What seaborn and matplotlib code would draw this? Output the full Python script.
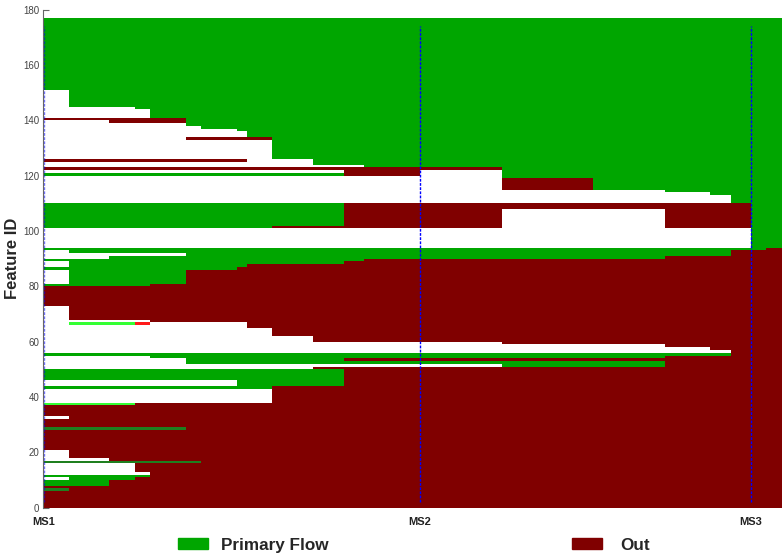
import numpy as np
import seaborn as sns
import matplotlib.pyplot as plt
from matplotlib.colors import ListedColormap
from matplotlib.patches import Patch

sns.set_style('white')
plt.rcParams['font.family'] = ['Liberation Sans', 'DejaVu Sans']

# time axis (steps) and milestones
n_steps = 145
milestones = ['MS1', 'MS2', 'MS3']
milestone_t = [0, 74, 139]

# state codes: W none, G primary flow, R out, L light green, B bright red, D dark green line
state_codes = {'W': 0, 'G': 1, 'R': 2, 'L': 3, 'B': 4, 'D': 5}
state_colors = ['white', '#00a600', '#800000', '#33ff33', '#ff1a1a', '#1f7f1f']

# (first id, last id, [(state, until step), ...])
upper_rows = [
    (151, 176, [('G', 145)]),
    (145, 150, [('W', 5), ('G', 145)]),
    (144, 144, [('W', 18), ('G', 145)]),
    (141, 143, [('W', 21), ('G', 145)]),
    (140, 140, [('R', 28), ('G', 145)]),
    (139, 139, [('W', 13), ('R', 28), ('G', 145)]),
    (138, 138, [('W', 28), ('G', 145)]),
    (137, 137, [('W', 31), ('G', 145)]),
    (136, 136, [('W', 38), ('G', 145)]),
    (134, 135, [('W', 40), ('G', 145)]),
    (133, 133, [('W', 28), ('R', 45), ('G', 145)]),
    (126, 132, [('W', 45), ('G', 145)]),
    (125, 125, [('R', 40), ('W', 53), ('G', 145)]),
    (124, 124, [('W', 53), ('G', 145)]),
    (123, 123, [('W', 63), ('G', 145)]),
    (122, 122, [('R', 90), ('G', 145)]),
    (121, 121, [('W', 59), ('R', 74), ('W', 90), ('G', 145)]),
    (120, 120, [('G', 59), ('R', 74), ('W', 90), ('G', 145)]),
    (119, 119, [('W', 90), ('G', 145)]),
    (115, 118, [('W', 90), ('R', 108), ('G', 145)]),
    (114, 114, [('W', 122), ('G', 145)]),
    (113, 113, [('W', 131), ('G', 145)]),
    (110, 112, [('W', 135), ('G', 145)]),
    (108, 109, [('G', 59), ('R', 139), ('G', 145)]),
    (102, 107, [('G', 59), ('R', 90), ('W', 122), ('R', 139), ('G', 145)]),
    (101, 101, [('G', 45), ('R', 90), ('W', 122), ('R', 139), ('G', 145)]),
    (94, 100, [('W', 139), ('G', 145)]),
]

middle_rows = [
    (93, 93, [('G', 142), ('R', 145)]),
    (92, 92, [('W', 5), ('G', 135), ('R', 145)]),
    (91, 91, [('W', 28), ('G', 135), ('R', 145)]),
    (90, 90, [('W', 13), ('G', 122), ('R', 145)]),
    (89, 89, [('G', 63), ('R', 145)]),
    (88, 88, [('W', 5), ('G', 59), ('R', 145)]),
    (87, 87, [('W', 5), ('G', 40), ('R', 145)]),
    (86, 86, [('G', 38), ('R', 145)]),
    (81, 85, [('W', 5), ('G', 28), ('R', 145)]),
    (80, 80, [('G', 21), ('R', 145)]),
    (73, 79, [('R', 145)]),
    (68, 72, [('W', 5), ('R', 145)]),
    (67, 67, [('W', 21), ('R', 145)]),
    (66, 66, [('W', 5), ('L', 18), ('B', 21), ('W', 40), ('R', 145)]),
    (65, 65, [('W', 40), ('R', 145)]),
    (62, 64, [('W', 45), ('R', 145)]),
    (60, 61, [('W', 53), ('R', 145)]),
    (59, 59, [('W', 90), ('R', 145)]),
    (58, 58, [('W', 122), ('R', 145)]),
    (57, 57, [('W', 131), ('R', 145)]),
    (56, 56, [('W', 135), ('R', 145)]),
    (55, 55, [('G', 135), ('R', 145)]),
    (54, 54, [('W', 21), ('G', 122), ('R', 145)]),
    (53, 53, [('W', 28), ('G', 59), ('R', 145)]),
    (52, 52, [('W', 28), ('G', 122), ('R', 145)]),
    (51, 51, [('W', 90), ('G', 122), ('R', 145)]),
    (50, 50, [('W', 53), ('R', 145)]),
    (46, 49, [('G', 59), ('R', 145)]),
    (44, 45, [('W', 38), ('G', 59), ('R', 145)]),
    (43, 43, [('G', 45), ('R', 145)]),
    (38, 42, [('W', 45), ('R', 145)]),
]

lower_rows = [
    (37, 37, [('L', 18), ('R', 145)]),
    (33, 36, [('R', 145)]),
    (32, 32, [('W', 5), ('R', 145)]),
    (29, 31, [('R', 145)]),
    (28, 28, [('D', 28), ('R', 145)]),
    (21, 27, [('R', 145)]),
    (18, 20, [('W', 5), ('R', 145)]),
    (17, 17, [('W', 13), ('R', 145)]),
    (16, 16, [('D', 31), ('R', 145)]),
    (13, 15, [('W', 18), ('R', 145)]),
    (12, 12, [('W', 21), ('R', 145)]),
    (11, 11, [('G', 21), ('R', 145)]),
    (10, 10, [('W', 5), ('G', 18), ('R', 145)]),
    (8, 9, [('G', 13), ('R', 145)]),
    (7, 7, [('R', 145)]),
    (6, 6, [('D', 5), ('R', 145)]),
    (0, 5, [('R', 145)]),
]

# build the feature x step state matrix
groups = upper_rows + middle_rows + lower_rows
n_features = max(g[1] for g in groups) + 1
mat = np.zeros((n_features, n_steps))
for lo, hi, segs in groups:
    start = 0
    for state, end in segs:
        mat[lo:hi + 1, start:end] = state_codes[state]
        start = end

fig = plt.figure(figsize=(7.83, 5.55), dpi=100)
ax = fig.add_axes([0.0553, 0.0852, 0.943, 0.8973])

sns.heatmap(mat, cmap=ListedColormap(state_colors), vmin=-0.5, vmax=5.5,
            cbar=False, xticklabels=False, yticklabels=False, ax=ax)
ax.set_xlim(0, n_steps)
ax.set_ylim(0, 180)

# milestone markers
for i, t in enumerate(milestone_t):
    ax.vlines(t + 0.1 if i == 0 else t, 2, 174, colors='#0000ff',
              linestyles=(0, (2, 1)), linewidth=1, alpha=0.55 if i == 0 else 1)

ax.set_xticks(milestone_t)
ax.set_xticklabels(milestones, fontsize=8, fontweight='bold', color='#222222')
ax.tick_params(axis='x', length=0, pad=7)
ax.set_yticks(range(0, 181, 20))
ax.set_yticklabels([str(v) for v in range(0, 181, 20)], fontsize=7, color='#444444')
ax.tick_params(axis='y', direction='in', length=4, width=0.8, color='#666666', pad=3, left=True)
ax.spines['left'].set_visible(True)
ax.spines['left'].set_color('#666666')
ax.spines['left'].set_linewidth(0.8)
ax.set_xlabel('')
ax.set_ylabel('Feature ID', fontsize=12, fontweight='bold', labelpad=2)

# two separate legend entries along the bottom
legend_items = [('Primary Flow', state_colors[1], 178 / 783, 0.75),
                ('Out', state_colors[2], 572 / 783, 1.1)]
for label, color, x0, pad in legend_items:
    leg = fig.legend([Patch(color=color)], [label], loc='center left',
                     bbox_to_anchor=(x0, 0.018), frameon=False,
                     prop={'size': 12.3, 'weight': 'bold'}, borderpad=0, borderaxespad=0,
                     handlelength=1.75, handleheight=0.65, handletextpad=pad)

fig.savefig('out.png', dpi=100)
